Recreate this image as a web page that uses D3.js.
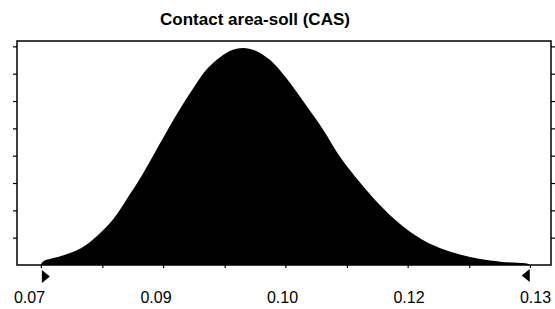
<!DOCTYPE html>
<html>
<head>
<meta charset="utf-8">
<script src="https://cdn.jsdelivr.net/npm/d3@7"></script>
<style>
  html, body { margin: 0; padding: 0; background: #fff; }
  svg { display: block; }
</style>
</head>
<body>
<svg id="chart" width="555" height="309"></svg>
<script>
// ---- data ----
const title = "Contact area-soll (CAS)";
const xValues = [0.0714, 0.0717, 0.0737, 0.0761, 0.0781, 0.0800, 0.0816, 0.0832, 0.0859,
  0.0879, 0.0895, 0.0911, 0.0927, 0.0941, 0.0954, 0.0968, 0.0986, 0.1006, 0.1025, 0.1049, 0.1069,
  0.1093, 0.1116, 0.1140, 0.1164, 0.1187, 0.1211, 0.1235, 0.1259, 0.1292, 0.1294];
const density = [0.000, 0.017, 0.039, 0.074, 0.131, 0.205, 0.295, 0.388, 0.567,
  0.696, 0.790, 0.875, 0.929, 0.960, 0.969, 0.958, 0.915, 0.830, 0.732, 0.603, 0.482,
  0.366, 0.268, 0.183, 0.118, 0.076, 0.047, 0.027, 0.015, 0.005, 0.000];
const xLabelValues = [0.07, 0.085, 0.10, 0.115, 0.13];
const xLabels = ["0.07", "0.09", "0.10", "0.12", "0.13"];
const xMinorTicks = [0.0714, 0.0787, 0.0859, 0.0932, 0.1004, 0.1077, 0.1149, 0.1222, 0.1294];
const yTicks = [0.122, 0.244, 0.366, 0.488, 0.610, 0.732, 0.854, 0.976];
const certaintyRange = [0.0720, 0.1289];

// ---- layout ----
const svg = d3.select("#chart");
const plot = { left: 17, right: 551, top: 41, bottom: 265 };

const x = d3.scaleLinear().domain([0.07, 0.13]).range([29, 535]);
const y = d3.scaleLinear().domain([0, 1]).range([plot.bottom, plot.top]);

// title
svg.append("text")
  .attr("x", 255).attr("y", 25)
  .attr("text-anchor", "middle")
  .attr("font-family", "Liberation Sans, Arial, sans-serif")
  .attr("font-weight", "bold")
  .attr("font-size", 17)
  .attr("fill", "#000")
  .text(title);

// filled distribution
const pts = xValues.map((v, i) => [v, density[i]]);
const area = d3.area()
  .x(d => x(d[0]))
  .y0(y(0))
  .y1(d => y(d[1]))
  .curve(d3.curveCatmullRom.alpha(0.5));
svg.append("path")
  .datum(pts)
  .attr("d", area)
  .attr("fill", "#000");

// frame
svg.append("rect")
  .attr("x", plot.left).attr("y", plot.top)
  .attr("width", plot.right - plot.left)
  .attr("height", plot.bottom - plot.top)
  .attr("fill", "none")
  .attr("stroke", "#000")
  .attr("stroke-width", 1.5);

// left and right y ticks
const yAxisL = d3.axisLeft(y).tickValues(yTicks).tickSize(4).tickFormat("");
const yAxisR = d3.axisRight(y).tickValues(yTicks).tickSize(4).tickFormat("");
const gl = svg.append("g").attr("transform", `translate(${plot.left},0)`).call(yAxisL);
const gr = svg.append("g").attr("transform", `translate(${plot.right},0)`).call(yAxisR);
[gl, gr].forEach(g => {
  g.select(".domain").remove();
  g.selectAll("line").attr("stroke", "#000").attr("stroke-width", 1.2);
});

// bottom minor ticks
const xAxisMinor = d3.axisBottom(x).tickValues(xMinorTicks).tickSize(3).tickFormat("");
const gb = svg.append("g").attr("transform", `translate(0,${plot.bottom})`).call(xAxisMinor);
gb.select(".domain").remove();
gb.selectAll("line").attr("stroke", "#000").attr("stroke-width", 1.2);

// bottom labels
const xAxisLab = d3.axisBottom(x).tickValues(xLabelValues).tickSize(0)
  .tickFormat((d, i) => xLabels[i]);
const gx = svg.append("g").attr("transform", `translate(0,${plot.bottom})`).call(xAxisLab);
gx.select(".domain").remove();
gx.selectAll("text")
  .attr("dy", 0)
  .attr("y", 38)
  .attr("font-family", "Liberation Sans, Arial, sans-serif")
  .attr("font-size", 16)
  .attr("fill", "#000");

// certainty triangles
const tY = 270, tH = 13, tW = 8;
const lx = x(certaintyRange[0]);
const rx = x(certaintyRange[1]);
svg.append("path")
  .attr("d", `M${lx - tW / 2},${tY} L${lx + tW / 2},${tY + tH / 2} L${lx - tW / 2},${tY + tH} Z`)
  .attr("fill", "#000");
svg.append("path")
  .attr("d", `M${rx + tW / 2},${tY - 1} L${rx - tW / 2},${tY - 1 + tH / 2} L${rx + tW / 2},${tY - 1 + tH} Z`)
  .attr("fill", "#000");
</script>
</body>
</html>
